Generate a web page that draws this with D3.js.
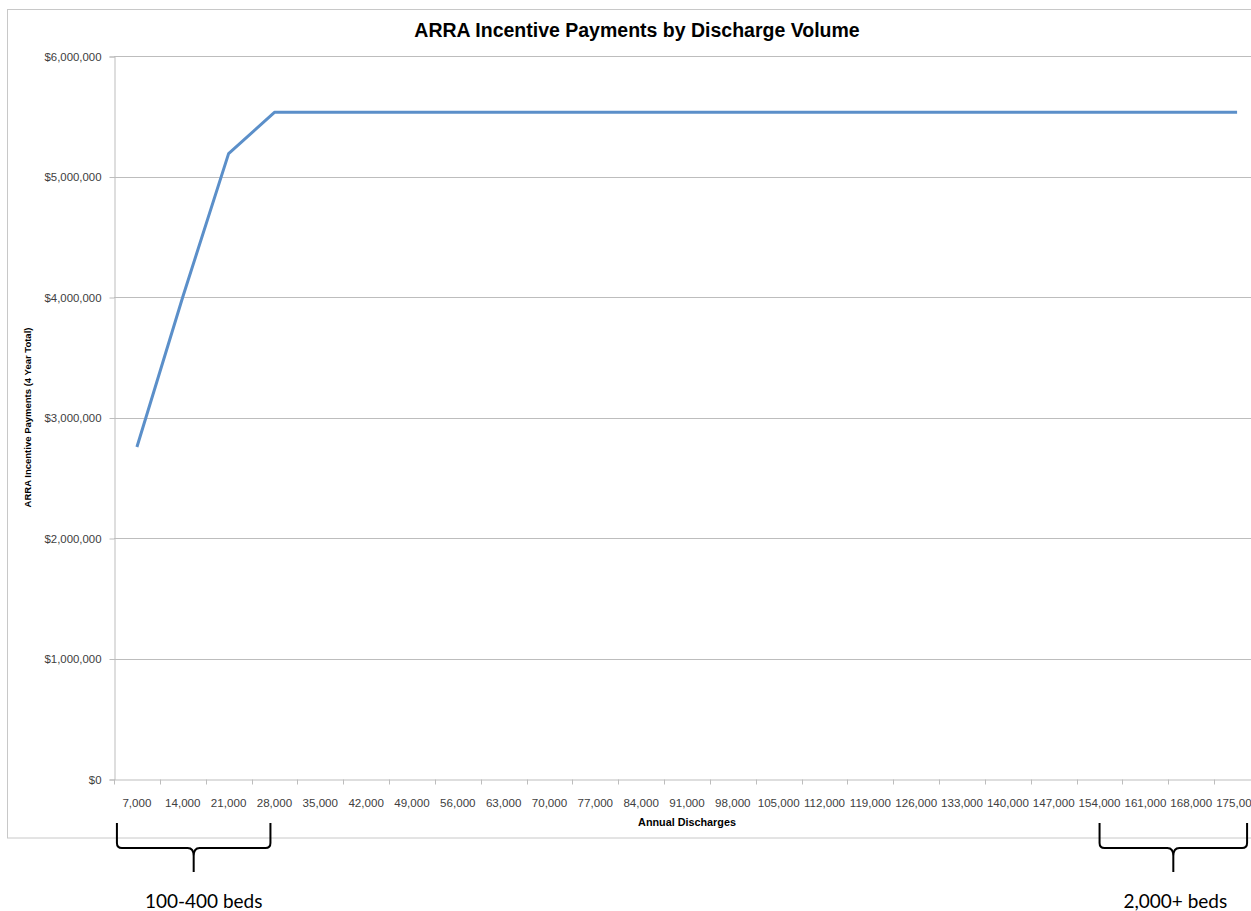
<!DOCTYPE html>
<html>
<head>
<meta charset="utf-8">
<script src="https://cdn.jsdelivr.net/npm/d3@7"></script>
<style>
  html, body { margin: 0; padding: 0; background: #fff; }
  svg { display: block; }
</style>
</head>
<body>
<svg id="chart" width="1251" height="911"></svg>
<script>
// ---- Data ----
const categories = [7000, 14000, 21000, 28000, 35000, 42000, 49000, 56000, 63000, 70000,
  77000, 84000, 91000, 98000, 105000, 112000, 119000, 126000, 133000, 140000,
  147000, 154000, 161000, 168000, 175000];
const payments = [2755000, 4000000, 5190000, 5533000, 5533000, 5533000, 5533000, 5533000,
  5533000, 5533000, 5533000, 5533000, 5533000, 5533000, 5533000, 5533000, 5533000,
  5533000, 5533000, 5533000, 5533000, 5533000, 5533000, 5533000, 5533000];
const yTicks = [0, 1000000, 2000000, 3000000, 4000000, 5000000, 6000000];
const titleText = "ARRA Incentive Payments by Discharge Volume";
const xTitle = "Annual Discharges";
const yTitle = "ARRA Incentive Payments (4 Year Total)";
const braceLabels = ["100-400 beds", "2,000+ beds"];
const braceFrom = [7000, 154000];
const braceTo = [28000, 175000];

// ---- Layout ----
const svg = d3.select("#chart");
const plot = { left: 114, right: 1260, top: 56, bottom: 779 };
const fmtNum = d3.format(",");
const fmtMoney = v => "$" + d3.format(",")(v);

const x = d3.scaleBand().domain(categories).range([plot.left, plot.right]).paddingInner(0).paddingOuter(0);
const y = d3.scaleLinear().domain([0, 6000000]).range([plot.bottom, plot.top]);
const cx = d => x(d) + x.bandwidth() / 2;

// chart frame
svg.append("rect")
  .attr("x", 7.5).attr("y", 9.5).attr("width", 1262).attr("height", 828.5)
  .attr("fill", "#fff").attr("stroke", "#c8c8c8").attr("stroke-width", 1);

// title
svg.append("text")
  .attr("x", 637).attr("y", 37)
  .attr("text-anchor", "middle")
  .attr("font-family", "'Liberation Sans', Arial, sans-serif")
  .attr("font-weight", "bold").attr("font-size", 19.5)
  .attr("fill", "#000")
  .text(titleText);

// gridlines
svg.append("g").selectAll("line").data(yTicks.filter(t => t > 0)).join("line")
  .attr("x1", plot.left).attr("x2", plot.right)
  .attr("y1", d => Math.round(y(d)) + 0.5).attr("y2", d => Math.round(y(d)) + 0.5)
  .attr("stroke", "#bdbdbd").attr("stroke-width", 1);

// y axis
const yAxis = d3.axisLeft(y).tickValues(yTicks).tickFormat(fmtMoney).tickSize(5).tickPadding(8);
const gy = svg.append("g").attr("transform", `translate(${plot.left + 0.5},0.5)`).call(yAxis);
gy.select(".domain").attr("stroke", "#bdbdbd");
gy.selectAll(".tick line").attr("stroke", "#bdbdbd");
gy.selectAll(".tick text")
  .attr("font-family", "'Liberation Sans', Arial, sans-serif")
  .attr("font-size", 11.4).attr("fill", "#404040");

// x axis
const xAxis = d3.axisBottom(x).tickFormat(fmtNum).tickSize(0).tickPadding(19);
const gx = svg.append("g").attr("transform", `translate(0,${plot.bottom + 0.5})`).call(xAxis);
gx.select(".domain").attr("stroke", "#bdbdbd");
gx.selectAll(".tick text")
  .attr("font-family", "'Liberation Sans', Arial, sans-serif")
  .attr("font-size", 11.6).attr("fill", "#404040");
// tick marks at band boundaries
gx.append("g").selectAll("line").data(categories).join("line")
  .attr("x1", d => Math.round(x(d)) + 0.5).attr("x2", d => Math.round(x(d)) + 0.5)
  .attr("y1", 0).attr("y2", 5)
  .attr("stroke", "#bdbdbd");

// axis titles
svg.append("text")
  .attr("x", (plot.left + plot.right) / 2).attr("y", 826)
  .attr("text-anchor", "middle")
  .attr("font-family", "'Liberation Sans', Arial, sans-serif")
  .attr("font-weight", "bold").attr("font-size", 10.8).attr("fill", "#000")
  .text(xTitle);

svg.append("text")
  .attr("transform", `translate(31,${(plot.top + plot.bottom) / 2}) rotate(-90)`)
  .attr("text-anchor", "middle")
  .attr("font-family", "'Liberation Sans', Arial, sans-serif")
  .attr("font-weight", "bold").attr("font-size", 9.5).attr("fill", "#000")
  .text(yTitle);

// line
const line = d3.line().x((d, i) => cx(categories[i])).y(d => y(d));
svg.append("path")
  .datum(payments)
  .attr("d", line)
  .attr("fill", "none")
  .attr("stroke", "#5b8fc9")
  .attr("stroke-width", 3)
  .attr("stroke-linejoin", "round");

// braces
const braceTop = 823, braceMid = 848, braceTip = 872;
const braceX1 = [cx(braceFrom[0]) - 20, cx(braceFrom[1])];
const braceX2 = [cx(braceTo[0]) - 4, cx(braceTo[1]) + 10];
braceLabels.forEach((lab, i) => {
  const x1 = braceX1[i], x2 = braceX2[i], c = (x1 + x2) / 2;
  const p = d3.path();
  p.moveTo(x1, braceTop);
  p.lineTo(x1, braceMid - 5);
  p.quadraticCurveTo(x1, braceMid, x1 + 5, braceMid);
  p.lineTo(c - 6, braceMid);
  p.quadraticCurveTo(c, braceMid, c, braceMid + 8);
  p.lineTo(c, braceTip);
  p.moveTo(c, braceMid + 8);
  p.quadraticCurveTo(c, braceMid, c + 6, braceMid);
  p.lineTo(x2 - 5, braceMid);
  p.quadraticCurveTo(x2, braceMid, x2, braceMid - 5);
  p.lineTo(x2, braceTop);
  svg.append("path").attr("d", p.toString())
    .attr("fill", "none").attr("stroke", "#000").attr("stroke-width", 2);
  svg.append("text")
    .attr("x", c + (i === 0 ? 10 : 2)).attr("y", 908)
    .attr("text-anchor", "middle")
    .attr("font-family", "Lato, 'Open Sans', sans-serif")
    .attr("font-size", 19).attr("fill", "#000")
    .text(lab);
});
</script>
</body>
</html>
